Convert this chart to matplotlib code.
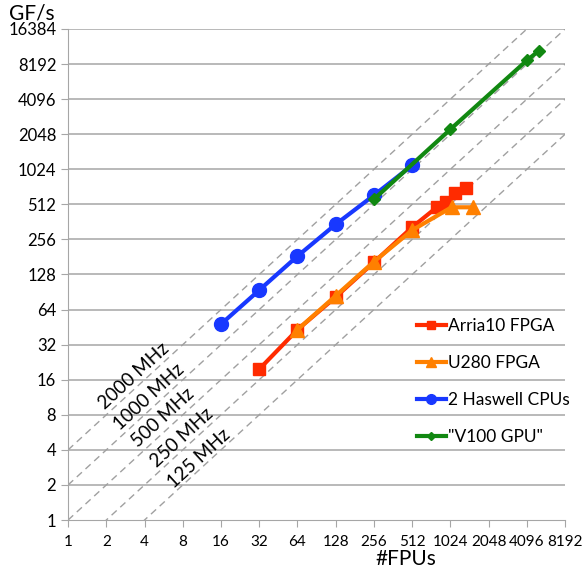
import numpy as np
import matplotlib.pyplot as plt

plt.rcParams['font.family'] = ['Lato', 'DejaVu Sans']

# data (x = #FPUs, y = GF/s)
arria_x = [32, 64, 128, 256, 512, 800, 950, 1120, 1350]
arria_y = [19.7, 43, 82, 163, 326, 483, 534, 638, 704]

u280_x = [64, 128, 256, 512, 1045, 1550]
u280_y = [43, 84, 165, 307, 483, 483]

cpu_x = [16, 32, 64, 128, 256, 512]
cpu_y = [48, 94, 184, 345, 613, 1107]

gpu_x = [256, 1024, 4096, 5120]
gpu_y = [566, 2256, 8800, 10700]

freq_labels = ['2000 MHz', '1000 MHz', '500 MHz', '250 MHz', '125 MHz']
freq_factor = [4, 2, 1, 0.5, 0.25]   # GF/s per FPU
label_pos = [(3.3, 17.1), (4.35, 11.3), (5.6, 7.6), (7.9, 5.05), (10.8, 3.34)]

ticks = [2 ** i for i in range(0, 15)]

fig = plt.figure(figsize=(5.82, 5.69), dpi=100)
ax = fig.add_axes([0.117, 0.0861, 0.854, 0.863])
ax.set_xscale('log', base=2)
ax.set_yscale('log', base=2)
ax.set_xlim(1, 8192)
ax.set_ylim(1, 16384)

for y in ticks[1:]:
    ax.axhline(y, color='#a6a6a6', lw=1.1, zorder=1)

xs = np.array([1, 8192])
for f in freq_factor:
    ax.plot(xs, xs * f, ls=(0, (5, 3.5)), color='#a0a0a0', lw=1.0, zorder=2)

for (tx, ty), lab in zip(label_pos, freq_labels):
    ax.text(tx, ty, lab, rotation=42.6, ha='center', va='center', fontsize=13.5,
            rotation_mode='anchor', zorder=3)

ax.plot(arria_x, arria_y, '-s', color='#ff2b00', lw=3, ms=9, label='Arria10 FPGA', zorder=4)
ax.plot(u280_x, u280_y, '-^', color='#ff8000', lw=3, ms=10, label='U280 FPGA', zorder=5)
ax.plot(cpu_x, cpu_y, '-o', color='#1838ff', lw=3, ms=10, label='2 Haswell CPUs', zorder=4)
ax.plot(gpu_x, gpu_y, '-D', color='#118811', lw=3, ms=6, label='"V100 GPU"', zorder=5)

ax.set_xticks(ticks[:14])
ax.set_xticklabels([str(t) for t in ticks[:14]])
ax.set_yticks(ticks)
ax.set_yticklabels([str(t) for t in ticks])
ax.minorticks_off()
ax.tick_params(axis='both', colors='#a6a6a6', labelcolor='black', labelsize=12, length=5)
ax.tick_params(axis='x', pad=6, labelsize=11)

for s in ['top', 'right']:
    ax.spines[s].set_visible(False)
for s in ['left', 'bottom']:
    ax.spines[s].set_color('#a6a6a6')

leg = ax.legend(loc='upper left', bbox_to_anchor=(0.67, 0.443), frameon=False,
                fontsize=12.5, labelspacing=1.2, handlelength=1.7, handletextpad=0.1,
                markerscale=0.7)

fig.text(32 / 582, 1 - 13 / 569, 'GF/s', ha='center', va='center', fontsize=15)
fig.text(406 / 582, 1 - 559 / 569, '#FPUs', ha='center', va='center', fontsize=15)

fig.savefig('out.png', dpi=100)
